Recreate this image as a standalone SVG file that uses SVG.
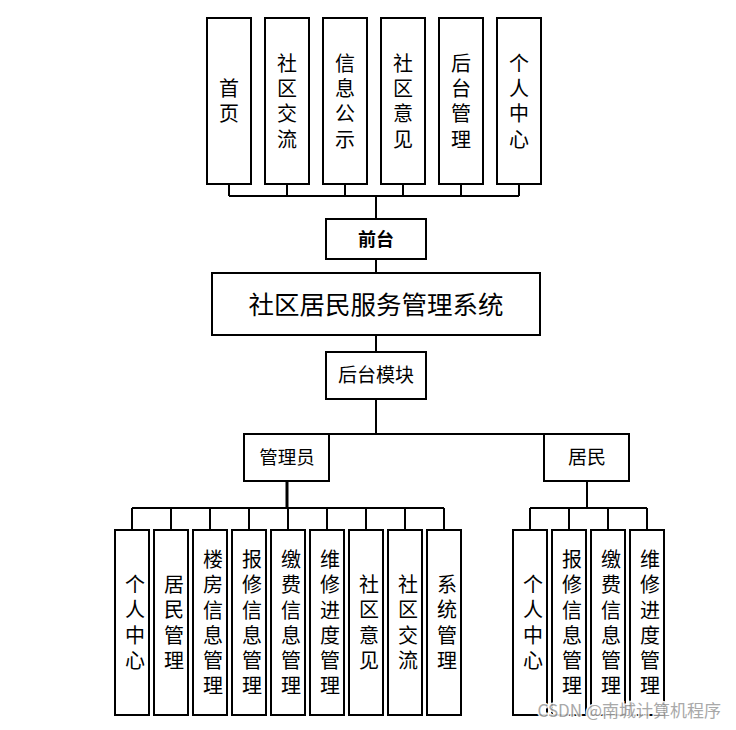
<svg xmlns="http://www.w3.org/2000/svg" width="736" height="730" viewBox="0 0 736 730">
<style>
.box{fill:#fff;stroke:#000;stroke-width:2}
.ln{fill:none;stroke:#000;stroke-width:2}
text{font-family:"Noto Sans CJK SC","Noto Sans",sans-serif;fill:#000;text-anchor:middle}
.col{font-size:20px;font-family:"Liberation Sans","Noto Sans CJK SC",sans-serif}
.wm{font-size:17px;fill:#a0a0a0;stroke:#fff;stroke-width:3;paint-order:stroke;text-anchor:end;opacity:0.9}
</style>
<rect width="736" height="730" fill="#fff"/>
<g id="connectors">
<path class="ln" d="M229 184V196M287 184V196M345 184V196M403 184V196M461 184V196M519 184V196M229 196H519M376 196V219"/>
<path class="ln" d="M376 259V273M376 335V352M376 399V434M287 434H587"/>
<path class="ln" d="M132 508H444M132 508V530M171 508V530M210 508V530M249 508V530M288 508V530M327 508V530M366 508V530M405 508V530M444 508V530"/>
<path class="ln" d="M287 481V508" style="stroke-width:3"/>
<path class="ln" d="M587 481V508M530 508H647M530 508V530M569 508V530M608 508V530M647 508V530"/>
</g>
<g id="n_home"><rect class="box" x="207" y="18" width="44" height="166"/><text class="col"><tspan x="229" y="96">首</tspan><tspan x="229" y="121.3">页</tspan></text></g>
<g id="n_comm"><rect class="box" x="265" y="18" width="44" height="166"/><text class="col"><tspan x="287" y="70.6">社</tspan><tspan x="287" y="96">区</tspan><tspan x="287" y="121.3">交</tspan><tspan x="287" y="146.6">流</tspan></text></g>
<g id="n_info"><rect class="box" x="323" y="18" width="44" height="166"/><text class="col"><tspan x="345" y="70.6">信</tspan><tspan x="345" y="96">息</tspan><tspan x="345" y="121.3">公</tspan><tspan x="345" y="146.6">示</tspan></text></g>
<g id="n_opin"><rect class="box" x="381" y="18" width="44" height="166"/><text class="col"><tspan x="403" y="70.6">社</tspan><tspan x="403" y="96">区</tspan><tspan x="403" y="121.3">意</tspan><tspan x="403" y="146.6">见</tspan></text></g>
<g id="n_back"><rect class="box" x="439" y="18" width="44" height="166"/><text class="col"><tspan x="461" y="70.6">后</tspan><tspan x="461" y="96">台</tspan><tspan x="461" y="121.3">管</tspan><tspan x="461" y="146.6">理</tspan></text></g>
<g id="n_me"><rect class="box" x="497" y="18" width="44" height="166"/><text class="col"><tspan x="519" y="70.6">个</tspan><tspan x="519" y="96">人</tspan><tspan x="519" y="121.3">中</tspan><tspan x="519" y="146.6">心</tspan></text></g>
<g id="n_front"><rect class="box" x="326" y="219" width="100" height="40"/><text x="376" y="246" style="font-size:18px;font-weight:bold">前台</text></g>
<g id="n_sys"><rect class="box" x="212" y="273" width="328" height="62"/><text x="376" y="314" style="font-size:25.5px">社区居民服务管理系统</text></g>
<g id="n_backmod"><rect class="box" x="326" y="352" width="100" height="47"/><text x="376" y="382" style="font-size:19px">后台模块</text></g>
<g id="n_admin"><rect class="box" x="244" y="434" width="85" height="47"/><text x="287" y="464" style="font-size:18.5px">管理员</text></g>
<g id="n_res"><rect class="box" x="544" y="434" width="85" height="47"/><text x="587" y="463.5" style="font-size:19px">居民</text></g>
<g id="a1"><rect class="box" x="115" y="530" width="34" height="185"/><text class="col"><tspan x="135" y="592.1">个</tspan><tspan x="135" y="617.4">人</tspan><tspan x="135" y="642.8">中</tspan><tspan x="135" y="668.1">心</tspan></text></g>
<g id="a2"><rect class="box" x="154" y="530" width="34" height="185"/><text class="col"><tspan x="174" y="592.1">居</tspan><tspan x="174" y="617.4">民</tspan><tspan x="174" y="642.8">管</tspan><tspan x="174" y="668.1">理</tspan></text></g>
<g id="a3"><rect class="box" x="193" y="530" width="34" height="185"/><text class="col"><tspan x="213" y="566.9">楼</tspan><tspan x="213" y="592.2">房</tspan><tspan x="213" y="617.5">信</tspan><tspan x="213" y="642.8">息</tspan><tspan x="213" y="668.1">管</tspan><tspan x="213" y="693.4">理</tspan></text></g>
<g id="a4"><rect class="box" x="232" y="530" width="34" height="185"/><text class="col"><tspan x="252" y="566.9">报</tspan><tspan x="252" y="592.2">修</tspan><tspan x="252" y="617.5">信</tspan><tspan x="252" y="642.8">息</tspan><tspan x="252" y="668.1">管</tspan><tspan x="252" y="693.4">理</tspan></text></g>
<g id="a5"><rect class="box" x="271" y="530" width="34" height="185"/><text class="col"><tspan x="291" y="566.9">缴</tspan><tspan x="291" y="592.2">费</tspan><tspan x="291" y="617.5">信</tspan><tspan x="291" y="642.8">息</tspan><tspan x="291" y="668.1">管</tspan><tspan x="291" y="693.4">理</tspan></text></g>
<g id="a6"><rect class="box" x="310" y="530" width="34" height="185"/><text class="col"><tspan x="330" y="566.9">维</tspan><tspan x="330" y="592.2">修</tspan><tspan x="330" y="617.5">进</tspan><tspan x="330" y="642.8">度</tspan><tspan x="330" y="668.1">管</tspan><tspan x="330" y="693.4">理</tspan></text></g>
<g id="a7"><rect class="box" x="349" y="530" width="34" height="185"/><text class="col"><tspan x="369" y="592.1">社</tspan><tspan x="369" y="617.4">区</tspan><tspan x="369" y="642.8">意</tspan><tspan x="369" y="668.1">见</tspan></text></g>
<g id="a8"><rect class="box" x="388" y="530" width="34" height="185"/><text class="col"><tspan x="408" y="592.1">社</tspan><tspan x="408" y="617.4">区</tspan><tspan x="408" y="642.8">交</tspan><tspan x="408" y="668.1">流</tspan></text></g>
<g id="a9"><rect class="box" x="427" y="530" width="34" height="185"/><text class="col"><tspan x="447" y="592.1">系</tspan><tspan x="447" y="617.4">统</tspan><tspan x="447" y="642.8">管</tspan><tspan x="447" y="668.1">理</tspan></text></g>
<g id="r1"><rect class="box" x="513" y="530" width="34" height="185"/><text class="col"><tspan x="533" y="592.1">个</tspan><tspan x="533" y="617.4">人</tspan><tspan x="533" y="642.8">中</tspan><tspan x="533" y="668.1">心</tspan></text></g>
<g id="r2"><rect class="box" x="552" y="530" width="34" height="185"/><text class="col"><tspan x="572" y="566.9">报</tspan><tspan x="572" y="592.2">修</tspan><tspan x="572" y="617.5">信</tspan><tspan x="572" y="642.8">息</tspan><tspan x="572" y="668.1">管</tspan><tspan x="572" y="693.4">理</tspan></text></g>
<g id="r3"><rect class="box" x="591" y="530" width="34" height="185"/><text class="col"><tspan x="611" y="566.9">缴</tspan><tspan x="611" y="592.2">费</tspan><tspan x="611" y="617.5">信</tspan><tspan x="611" y="642.8">息</tspan><tspan x="611" y="668.1">管</tspan><tspan x="611" y="693.4">理</tspan></text></g>
<g id="r4"><rect class="box" x="630" y="530" width="34" height="185"/><text class="col"><tspan x="650" y="566.9">维</tspan><tspan x="650" y="592.2">修</tspan><tspan x="650" y="617.5">进</tspan><tspan x="650" y="642.8">度</tspan><tspan x="650" y="668.1">管</tspan><tspan x="650" y="693.4">理</tspan></text></g>
<text class="wm" x="721" y="717">CSDN @南城计算机程序</text>
</svg>
